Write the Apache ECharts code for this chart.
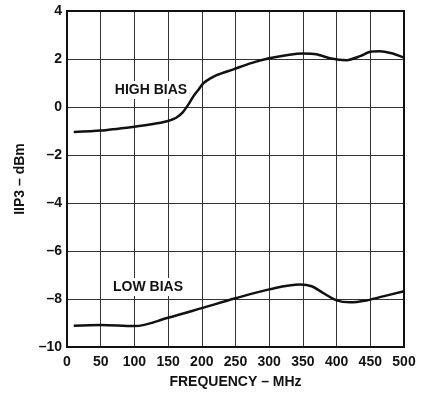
<!DOCTYPE html>
<html><head><meta charset="utf-8">
<script src="https://cdn.jsdelivr.net/npm/echarts@6/dist/echarts.min.js"></script>
<style>html,body{margin:0;padding:0;background:#fff}#c{width:428px;height:396px}</style>
</head><body><div id="c"></div>
<script>
var freqHigh = [10, 50, 100, 123, 150, 162, 172, 180, 187, 195, 202, 212, 222, 247, 272, 300, 330, 350, 370, 390, 415, 435, 450, 464, 480, 500];
var iip3High = [-1.04, -0.98, -0.82, -0.73, -0.58, -0.45, -0.21, 0.1, 0.42, 0.72, 0.98, 1.18, 1.33, 1.57, 1.82, 2.03, 2.18, 2.23, 2.2, 2.03, 1.95, 2.12, 2.3, 2.32, 2.25, 2.06];
var freqLow = [10, 50, 100, 150, 200, 250, 300, 346, 363, 380, 400, 420, 444, 469, 500];
var iip3Low = [-9.11, -9.08, -9.13, -8.78, -8.38, -7.97, -7.6, -7.4, -7.47, -7.75, -8.06, -8.14, -8.06, -7.89, -7.68];
var xTicks = [0, 50, 100, 150, 200, 250, 300, 350, 400, 450, 500];
var yTicks = [-10, -8, -6, -4, -2, 0, 2, 4];
var seriesNames = ['HIGH BIAS', 'LOW BIAS'];

function pairs(xs, ys) { return xs.map(function (x, i) { return [x, ys[i]]; }); }
var font = 'Liberation Sans, Arial, sans-serif';
var chart = echarts.init(document.getElementById('c'));
chart.setOption({
  animation: false,
  grid: { left: 67, right: 24, top: 11, bottom: 49 },
  xAxis: {
    type: 'value', min: xTicks[0], max: xTicks[xTicks.length - 1], interval: 50,
    name: 'FREQUENCY – MHz', nameLocation: 'middle', nameGap: 28,
    nameTextStyle: { fontFamily: font, fontWeight: 'bold', fontSize: 14, color: '#111' },
    axisLine: { show: false },
    axisTick: { show: false },
    axisLabel: { margin: 8, fontFamily: font, fontWeight: 'bold', fontSize: 14, color: '#111' },
    splitLine: { show: true, lineStyle: { color: '#333', width: 1 } }
  },
  yAxis: {
    type: 'value', min: yTicks[0], max: yTicks[yTicks.length - 1], interval: 2,
    name: 'IIP3 – dBm', nameLocation: 'middle', nameGap: 40, nameRotate: 90,
    nameTextStyle: { fontFamily: font, fontWeight: 'bold', fontSize: 14, color: '#111' },
    axisLine: { show: false },
    axisTick: { show: false },
    axisLabel: { margin: 5, fontFamily: font, fontWeight: 'bold', fontSize: 14, color: '#111',
      formatter: function (v) { return v < 0 ? '–' + Math.abs(v) : String(v); } },
    splitLine: { show: true, lineStyle: { color: '#333', width: 1 } }
  },
  graphic: [
    { type: 'rect', z: 100, shape: { x: 67, y: 11, width: 337, height: 336 },
      style: { fill: 'none', stroke: '#111', lineWidth: 2 } },
    { type: 'text', z: 100, x: 151, y: 90,
      style: { text: seriesNames[0], fontFamily: font, fontWeight: 'bold', fontSize: 14, fill: '#111',
        align: 'center', verticalAlign: 'middle', backgroundColor: '#fff', padding: [2, 2] } },
    { type: 'text', z: 100, x: 148, y: 287,
      style: { text: seriesNames[1], fontFamily: font, fontWeight: 'bold', fontSize: 14, fill: '#111',
        align: 'center', verticalAlign: 'middle', backgroundColor: '#fff', padding: [2, 2] } }
  ],
  series: [
    { name: seriesNames[0], type: 'line', data: pairs(freqHigh, iip3High), smooth: 0.25, showSymbol: false,
      lineStyle: { color: '#111', width: 2.5 }, z: 10 },
    { name: seriesNames[1], type: 'line', data: pairs(freqLow, iip3Low), smooth: 0.35, showSymbol: false,
      lineStyle: { color: '#111', width: 2.5 }, z: 10 }
  ]
});
</script></body></html>
